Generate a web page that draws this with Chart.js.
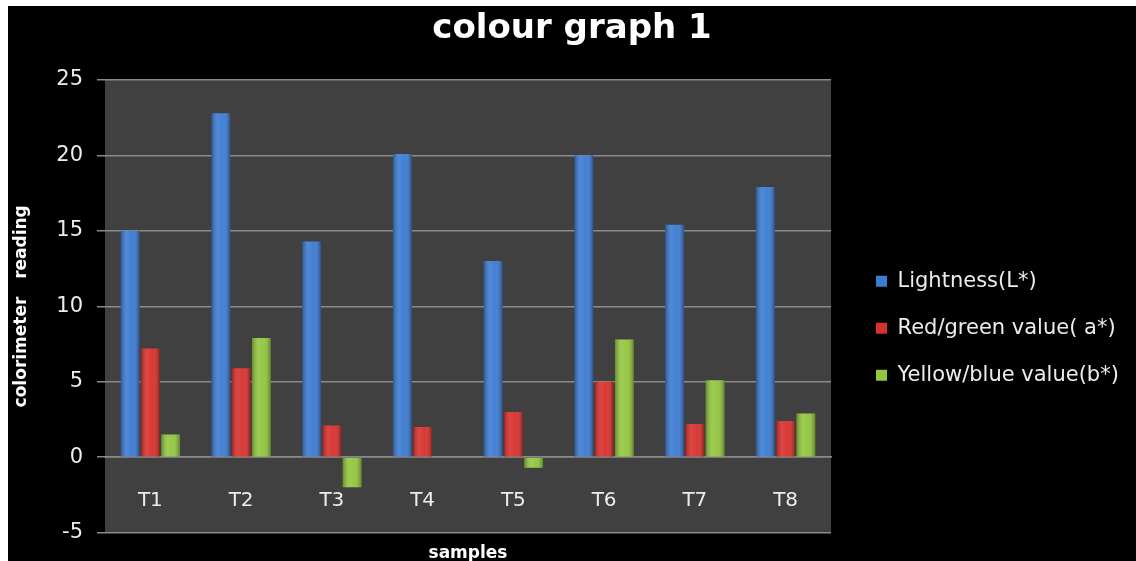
<!DOCTYPE html>
<html>
<head>
<meta charset="utf-8">
<script src="https://cdn.jsdelivr.net/npm/chart.js@4"></script>
<style>
  html, body { margin: 0; padding: 0; background: #ffffff; }
  #wrap { position: absolute; left: 8px; top: 6px; width: 1128px; height: 555px; background: #000000; }
</style>
</head>
<body>
<div id="wrap"><canvas id="colourChart"></canvas></div>
<script>
// colorimeter readings per sample
var samples = ["T1", "T2", "T3", "T4", "T5", "T6", "T7", "T8"];
var lightness = [15.0, 22.8, 14.3, 20.1, 13.0, 20.0, 15.4, 17.9];
var redGreen = [7.2, 5.9, 2.1, 2.0, 3.0, 5.0, 2.2, 2.4];
var yellowBlue = [1.5, 7.9, -2.0, 0, -0.7, 7.8, 5.1, 2.9];
var yTicks = [-5, 0, 5, 10, 15, 20, 25];

var gridGrey = "#8a8a8a";
var font = "'DejaVu Sans', sans-serif";

// dark grey plot background behind the bars
var plotBg = {
  id: "plotBg",
  beforeDraw: function(chart) {
    var a = chart.chartArea;
    var ctx = chart.ctx;
    ctx.save();
    ctx.fillStyle = "#404040";
    ctx.fillRect(a.left, a.top, a.right - a.left, a.bottom - a.top);
    ctx.restore();
  }
};

// rounded shading across each bar so they read as cylinders
var barShade = {
  id: "barShade",
  afterDatasetsDraw: function(chart) {
    var ctx = chart.ctx;
    ctx.save();
    chart.data.datasets.forEach(function(ds, i) {
      chart.getDatasetMeta(i).data.forEach(function(el) {
        var p = el.getProps(["x", "y", "base", "width"], true);
        var h = Math.abs(p.base - p.y);
        if (h < 0.5) return;
        var left = p.x - p.width / 2;
        var top = Math.min(p.y, p.base);
        var g = ctx.createLinearGradient(left, 0, left + p.width, 0);
        g.addColorStop(0, "rgba(0,0,0,0.30)");
        g.addColorStop(0.35, "rgba(255,255,255,0.10)");
        g.addColorStop(0.6, "rgba(255,255,255,0.04)");
        g.addColorStop(1, "rgba(0,0,0,0.35)");
        ctx.fillStyle = g;
        ctx.fillRect(left, top, p.width, h);
      });
    });
    ctx.restore();
  }
};

// wide legend column on the right, nudged in a bit from the plot
var legendSpot = {
  id: "legendSpot",
  beforeLayout: function(chart) {
    var lg = chart.legend;
    if (lg && !lg._fixedFit) {
      var fit = lg.fit.bind(lg);
      lg.fit = function() { fit(); this.width = 305; };
      lg._fixedFit = true;
    }
  },
  afterLayout: function(chart) {
    var lg = chart.legend;
    lg.left += 19;
    lg.top += 22;
    lg.bottom += 22;
  }
};

var ctx = document.getElementById("colourChart").getContext("2d");

var colourChart = new Chart(ctx, {
  type: "bar",
  data: {
    labels: samples,
    datasets: [
      { label: "Lightness(L*)", backgroundColor: "#3b7bd2", data: lightness },
      { label: "Red/green value( a*)", backgroundColor: "#d8302c", data: redGreen },
      { label: "Yellow/blue value(b*)", backgroundColor: "#92c63e", data: yellowBlue }
    ]
  },
  plugins: [plotBg, barShade, legendSpot],
  options: {
    responsive: true,
    maintainAspectRatio: false,
    animation: false,
    layout: { padding: 0 },
    datasets: {
      bar: { barPercentage: 0.93, categoryPercentage: 0.67 }
    },
    scales: {
      x: {
        position: { y: 0 },
        grid: { display: false, drawTicks: false },
        border: { display: true, color: gridGrey, width: 1.5 },
        ticks: {
          color: "#ececec",
          padding: 32,
          font: { family: font, size: 20 }
        }
      },
      y: {
        min: -5,
        max: 25,
        afterBuildTicks: function(scale) {
          scale.ticks = yTicks.map(function(v) { return { value: v }; });
        },
        afterFit: function(scale) { scale.width = 97; },
        grid: { color: gridGrey, lineWidth: 1.5, tickLength: 8, tickColor: gridGrey },
        border: { display: false },
        ticks: {
          color: "#ececec",
          padding: 14,
          font: { family: font, size: 21 }
        },
        title: {
          display: true,
          text: "colorimeter   reading",
          color: "#ffffff",
          padding: { top: 3, bottom: 0 },
          font: { family: font, size: 17, weight: "bold" }
        }
      }
    },
    plugins: {
      title: {
        display: true,
        text: "colour graph 1",
        color: "#ffffff",
        padding: { top: 3, bottom: 30.2 },
        font: { family: font, size: 34, weight: "bold" }
      },
      subtitle: {
        display: true,
        position: "bottom",
        fullSize: false,
        text: "samples",
        color: "#ffffff",
        padding: { top: 11, bottom: -3 },
        font: { family: font, size: 17, weight: "bold" }
      },
      legend: {
        position: "right",
        fullSize: false,
        labels: {
          color: "#ececec",
          boxWidth: 11,
          boxHeight: 11,
          padding: 26,
          font: { family: font, size: 21 }
        }
      },
      tooltip: { enabled: false }
    }
  }
});
</script>
</body>
</html>
